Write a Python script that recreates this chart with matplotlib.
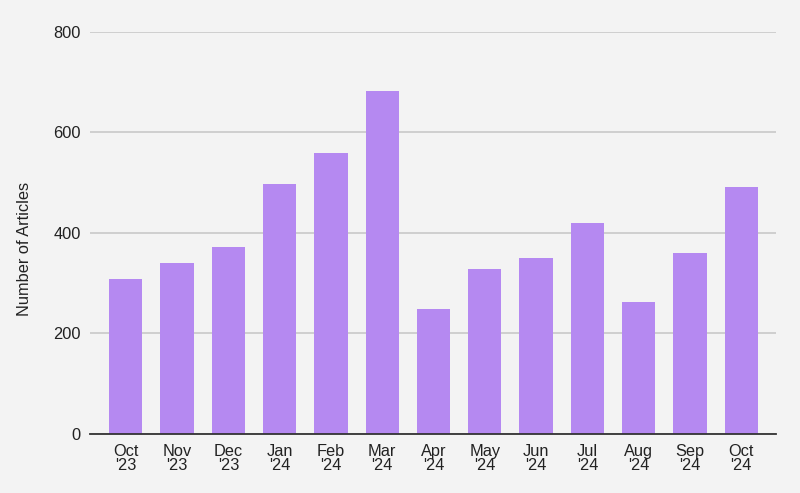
import numpy as np
import matplotlib.pyplot as plt

plt.rcParams['font.family'] = ['Liberation Sans', 'DejaVu Sans']

months = ["Oct\n'23", "Nov\n'23", "Dec\n'23", "Jan\n'24", "Feb\n'24", "Mar\n'24", "Apr\n'24",
          "May\n'24", "Jun\n'24", "Jul\n'24", "Aug\n'24", "Sep\n'24", "Oct\n'24"]
articles = [309, 341, 371, 497, 559, 683, 248, 329, 350, 420, 262, 360, 492]
y_ticks = [0, 200, 400, 600, 800]

bg = '#f3f3f3'
fig = plt.figure(figsize=(8, 4.93), dpi=100, facecolor=bg)
ax = fig.add_axes([0.1129, 0.1197, 0.8567, 0.816])
ax.set_facecolor(bg)

x = np.arange(len(months))
ax.bar(x, articles, width=0.65, color='#b589f1', zorder=3)

ax.set_xlim(-0.69, len(months) - 1 + 0.67)
ax.set_ylim(0, 800)
ax.set_yticks(y_ticks)
ax.set_xticks(x)
ax.set_xticklabels(months, linespacing=0.92)
ax.tick_params(axis='both', length=0, labelsize=11.8, colors='#222222')
ax.tick_params(axis='x', pad=7)
ax.tick_params(axis='y', pad=7)

ax.grid(axis='y', color='#cccccc', linewidth=1.3, zorder=0)
for side in ['top', 'right', 'left']:
    ax.spines[side].set_visible(False)
ax.spines['bottom'].set_color('#333333')
ax.spines['bottom'].set_linewidth(1.3)
ax.spines['bottom'].set_zorder(4)

ax.set_ylabel('Number of Articles', fontsize=11.8, color='#222222', labelpad=15)
ax.yaxis.label.set_y(0.46)

fig.savefig('out.png', dpi=100, facecolor=bg)
